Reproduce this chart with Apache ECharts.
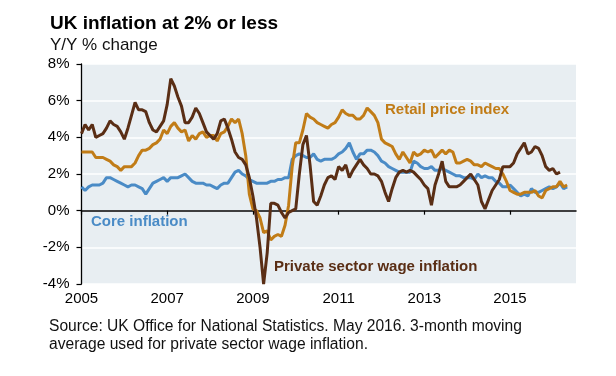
<!DOCTYPE html>
<html>
<head>
<meta charset="utf-8">
<script src="https://cdn.jsdelivr.net/npm/echarts@6/dist/echarts.min.js"></script>
<style>
html, body { margin: 0; padding: 0; background: #fff; }
#chart { width: 616px; height: 376px; }
</style>
</head>
<body>
<div id="chart"></div>
<script>
// monthly, Jan 2005 onwards, Y/Y % change
let core = [
  1.3, 1.1, 1.3, 1.4, 1.4, 1.4, 1.5, 1.8, 1.8, 1.7, 1.6, 1.5, // 2005
  1.4, 1.3, 1.4, 1.4, 1.3, 1.2, 0.9, 1.2, 1.5, 1.6, 1.7, 1.8, // 2006
  1.6, 1.8, 1.8, 1.8, 1.9, 2.0, 1.8, 1.6, 1.5, 1.5, 1.5, 1.4, // 2007
  1.4, 1.3, 1.2, 1.4, 1.5, 1.5, 1.8, 2.1, 2.2, 2.0, 1.9, 1.7, // 2008
  1.6, 1.5, 1.5, 1.5, 1.5, 1.6, 1.6, 1.7, 1.7, 1.8, 1.8, 2.8, // 2009
  3.0, 3.1, 3.0, 2.9, 2.9, 3.1, 2.8, 2.7, 2.8, 2.8, 2.8, 2.9, // 2010
  3.1, 3.2, 3.4, 3.7, 3.2, 2.8, 3.1, 3.1, 3.3, 3.3, 3.2, 3.0, // 2011
  2.7, 2.6, 2.4, 2.3, 2.2, 2.1, 2.1, 2.1, 2.1, 2.7, 2.6, 2.4, // 2012
  2.3, 2.3, 2.4, 2.2, 2.2, 2.3, 2.2, 2.1, 2.0, 1.9, 1.9, 1.8, // 2013
  1.8, 1.8, 1.7, 2.0, 1.8, 1.9, 1.8, 1.8, 1.6, 1.5, 1.3, 1.3, // 2014
  1.4, 1.2, 1.0, 0.8, 0.9, 0.8, 1.2, 1.0, 1.0, 1.1, 1.2, 1.3, // 2015
  1.2, 1.3, 1.5, 1.2, 1.3                                     // 2016
];
let rpi = [
  3.2, 3.2, 3.2, 3.2, 2.9, 2.9, 2.9, 2.8, 2.7, 2.5, 2.4, 2.2,
  2.4, 2.4, 2.4, 2.6, 3.0, 3.3, 3.3, 3.4, 3.6, 3.7, 3.9, 4.4,
  4.2, 4.6, 4.8, 4.5, 4.3, 4.4, 3.8, 4.1, 3.9, 4.2, 4.3, 4.0,
  4.1, 4.1, 3.8, 4.2, 4.3, 4.6, 5.0, 4.8, 5.0, 4.2, 3.0, 0.9,
  0.1, 0.0, -0.4, -1.2, -1.1, -1.6, -1.4, -1.3, -1.4, -0.8, 0.3, 2.4,
  3.7, 3.7, 4.4, 5.3, 5.1, 5.0, 4.8, 4.7, 4.6, 4.5, 4.7, 4.8,
  5.1, 5.5, 5.3, 5.2, 5.2, 5.0, 5.0, 5.2, 5.6, 5.4, 5.2, 4.8,
  3.9, 3.7, 3.6, 3.5, 3.1, 2.8, 3.2, 2.9, 2.6, 3.2, 3.0, 3.1,
  3.3, 3.2, 3.3, 2.9, 3.1, 3.3, 3.1, 3.3, 3.2, 2.6, 2.6, 2.7,
  2.8, 2.7, 2.5, 2.5, 2.4, 2.6, 2.5, 2.4, 2.3, 2.3, 2.0, 1.6,
  1.1, 1.0, 0.9, 0.9, 1.0, 1.0, 1.0, 1.1, 0.8, 0.7, 1.1, 1.2,
  1.3, 1.3, 1.6, 1.3, 1.4
];
let wages = [
  4.2, 4.7, 4.4, 4.7, 4.0, 4.1, 4.2, 4.5, 4.9, 4.7, 4.6, 4.3,
  3.9, 4.5, 5.2, 5.9, 5.5, 5.5, 5.4, 4.8, 4.4, 4.3, 4.6, 4.9,
  5.8, 7.2, 6.8, 6.2, 5.7, 4.8, 4.8, 5.1, 5.6, 5.3, 4.8, 4.3,
  4.1, 3.9, 4.2, 4.9, 5.0, 4.5, 3.9, 3.2, 2.9, 2.8, 2.5, 1.8,
  0.8, -0.4, -2.0, -4.0, -2.3, 0.4, 0.4, 0.3, -0.1, -0.4, -0.1, 0.0,
  0.1, 2.0, 3.6, 4.1, 2.5, 0.5, 0.3, 0.8, 1.4, 1.8, 1.9, 1.7,
  2.4, 2.2, 2.5, 1.8, 2.2, 2.5, 2.8, 2.5, 2.3, 2.0, 2.0, 1.9,
  1.6, 1.0, 0.5, 1.2, 1.8, 2.1, 2.2, 2.1, 2.2, 2.1, 1.9, 1.7,
  1.4, 1.2, 0.3, 1.4, 2.0, 2.7, 1.6, 1.3, 1.3, 1.3, 1.4, 1.6,
  1.8, 2.0, 1.7, 1.4, 0.5, 0.1, 0.6, 1.1, 1.4, 1.7, 2.4, 2.4,
  2.4, 2.6, 3.1, 3.4, 3.7, 3.1, 3.2, 3.5, 3.4, 3.0, 2.4, 2.2,
  2.3, 2.0, 2.1
];
let tickYears = [2005, 2007, 2009, 2011, 2013, 2015];

let colBlue = '#4a8bc6';
let colRpi = '#c17c17';
let colWage = '#5a2e15';
let font = '"Liberation Sans", Arial, sans-serif';

function toPoints(arr) {
  return arr.map(function (v, i) { return [2005 + i / 12, v]; });
}

let chart = echarts.init(document.getElementById('chart'));

let option = {
  animation: false,
  backgroundColor: '#fff',
  textStyle: { fontFamily: font },
  grid: {
    left: 81.5,
    right: 40,
    top: 64,
    bottom: 92,
    show: true,
    backgroundColor: '#e8eef2',
    borderWidth: 0
  },
  xAxis: [
    {
      // year labels under the plot
      type: 'value',
      position: 'bottom',
      min: 2005,
      max: 2016.54,
      axisLine: { show: false, onZero: false },
      axisTick: { show: false },
      axisLabel: {
        customValues: tickYears,
        margin: 7,
        color: '#000',
        fontSize: 15,
        formatter: function (v) { return String(Math.round(v)); }
      },
      splitLine: { show: false }
    },
    {
      // axis line at 0%, drawn over the white grid lines
      type: 'value',
      position: 'top',
      z: 3,
      min: 2005,
      max: 2016.54,
      axisLine: { show: true, onZero: true, lineStyle: { color: '#000', width: 1.5 } },
      axisTick: { show: true, customValues: tickYears, inside: true, length: 4, lineStyle: { color: '#000', width: 1.2 } },
      axisLabel: { show: false },
      splitLine: { show: false }
    }
  ],
  yAxis: {
    type: 'value',
    min: -4,
    max: 8,
    interval: 2,
    axisLine: { show: true, onZero: false, lineStyle: { color: '#000', width: 1.3 } },
    axisTick: { show: true, length: 5, lineStyle: { color: '#000', width: 1.2 } },
    axisLabel: {
      margin: 12,
      color: '#000',
      fontSize: 15,
      formatter: function (v) { return v + '%'; }
    },
    splitLine: { show: true, lineStyle: { color: '#fff', width: 1.5 } }
  },
  series: [
    {
      name: 'Core inflation',
      type: 'line',
      xAxisIndex: 0,
      data: toPoints(core),
      showSymbol: false,
      lineStyle: { color: colBlue, width: 3 },
      z: 2
    },
    {
      name: 'Retail price index',
      type: 'line',
      xAxisIndex: 0,
      data: toPoints(rpi),
      showSymbol: false,
      lineStyle: { color: colRpi, width: 3 },
      z: 3
    },
    {
      name: 'Private sector wage inflation',
      type: 'line',
      xAxisIndex: 0,
      data: toPoints(wages),
      showSymbol: false,
      lineStyle: { color: colWage, width: 3 },
      z: 4
    }
  ],
  graphic: [
    { type: 'text', x: 50, y: 24, style: { text: 'UK inflation at 2% or less', font: 'bold 19px ' + font, fill: '#000', verticalAlign: 'middle' } },
    { type: 'text', x: 50, y: 45, style: { text: 'Y/Y % change', font: '17px ' + font, fill: '#111', verticalAlign: 'middle' } },
    { type: 'text', x: 91, y: 222, z: 10, style: { text: 'Core inflation', font: 'bold 15px ' + font, fill: colBlue, verticalAlign: 'middle' } },
    { type: 'text', x: 385, y: 110, z: 10, style: { text: 'Retail price index', font: 'bold 15px ' + font, fill: colRpi, verticalAlign: 'middle' } },
    { type: 'text', x: 274, y: 266.5, z: 10, style: { text: 'Private sector wage inflation', font: 'bold 15px ' + font, fill: colWage, verticalAlign: 'middle' } },
    { type: 'text', x: 49, y: 327, style: { text: 'Source: UK Office for National Statistics. May 2016. 3-month moving', font: '15.6px ' + font, fill: '#111', verticalAlign: 'middle' } },
    { type: 'text', x: 49, y: 345, style: { text: 'average used for private sector wage inflation.', font: '15.6px ' + font, fill: '#111', verticalAlign: 'middle' } }
  ]
};

chart.setOption(option);
</script>
</body>
</html>
